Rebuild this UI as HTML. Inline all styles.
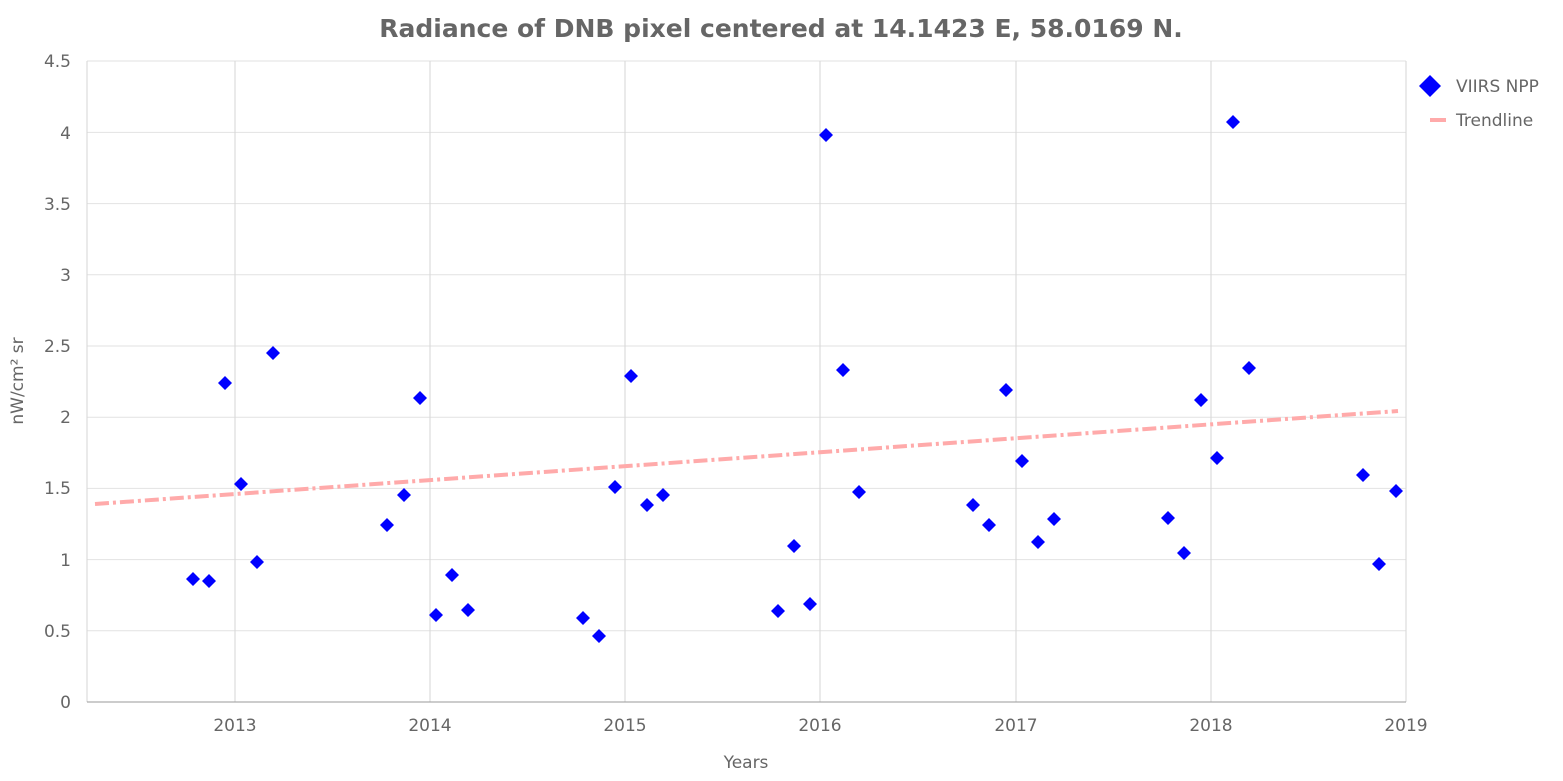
<!DOCTYPE html>
<html><head><meta charset="utf-8"><style>
html,body{margin:0;padding:0;background:#fff;}
svg{display:block;font-family:"DejaVu Sans","Liberation Sans",sans-serif;}
</style></head><body>
<svg width="1563" height="781" viewBox="0 0 1563 781" xmlns="http://www.w3.org/2000/svg">
<rect width="1563" height="781" fill="#fff"/>
<text x="781" y="37" text-anchor="middle" font-size="25" font-weight="bold" fill="#666">Radiance of DNB pixel centered at 14.1423 E, 58.0169 N.</text>
<g stroke="#e2e2e2" stroke-width="1">
<line x1="87" x2="1406" y1="630.8" y2="630.8"/>
<line x1="87" x2="1406" y1="559.6" y2="559.6"/>
<line x1="87" x2="1406" y1="488.4" y2="488.4"/>
<line x1="87" x2="1406" y1="417.2" y2="417.2"/>
<line x1="87" x2="1406" y1="346" y2="346"/>
<line x1="87" x2="1406" y1="274.8" y2="274.8"/>
<line x1="87" x2="1406" y1="203.6" y2="203.6"/>
<line x1="87" x2="1406" y1="132.4" y2="132.4"/>
<line x1="87" x2="1406" y1="61" y2="61"/>
</g>
<g stroke="#d6d6d6" stroke-width="1">
<line x1="87" x2="87" y1="61" y2="702"/>
<line x1="235" x2="235" y1="61" y2="702"/>
<line x1="430" x2="430" y1="61" y2="702"/>
<line x1="625" x2="625" y1="61" y2="702"/>
<line x1="820" x2="820" y1="61" y2="702"/>
<line x1="1016" x2="1016" y1="61" y2="702"/>
<line x1="1211" x2="1211" y1="61" y2="702"/>
<line x1="1406" x2="1406" y1="61" y2="702"/>
</g>
<line x1="87" x2="1406" y1="702" y2="702" stroke="#999" stroke-width="1"/>
<g font-size="17" fill="#666" text-anchor="end">
<text x="71" y="708">0</text><text x="71" y="637">0.5</text><text x="71" y="566">1</text><text x="71" y="494">1.5</text><text x="71" y="423">2</text><text x="71" y="352">2.5</text><text x="71" y="281">3</text><text x="71" y="210">3.5</text><text x="71" y="139">4</text><text x="71" y="67">4.5</text>
</g>
<g font-size="17" fill="#666" text-anchor="middle">
<text x="235" y="731">2013</text><text x="430" y="731">2014</text><text x="625" y="731">2015</text><text x="820" y="731">2016</text><text x="1016" y="731">2017</text><text x="1211" y="731">2018</text><text x="1406" y="731">2019</text>
<text x="746" y="768">Years</text>
</g>
<text transform="translate(23,381) rotate(-90)" font-size="17" fill="#666" text-anchor="middle">nW/cm² sr</text>
<line x1="95" y1="504" x2="1398" y2="411" stroke="#ffaaaa" stroke-width="4" stroke-dasharray="14,4,3,4"/>
<path fill="#0000ff" d="
M193,572l7,7l-7,7l-7,-7z
M209,574l7,7l-7,7l-7,-7z
M225,376l7,7l-7,7l-7,-7z
M241,477l7,7l-7,7l-7,-7z
M257,555l7,7l-7,7l-7,-7z
M273,346l7,7l-7,7l-7,-7z
M387,518l7,7l-7,7l-7,-7z
M404,488l7,7l-7,7l-7,-7z
M420,391l7,7l-7,7l-7,-7z
M436,608l7,7l-7,7l-7,-7z
M452,568l7,7l-7,7l-7,-7z
M468,603l7,7l-7,7l-7,-7z
M583,611l7,7l-7,7l-7,-7z
M599,629l7,7l-7,7l-7,-7z
M615,480l7,7l-7,7l-7,-7z
M631,369l7,7l-7,7l-7,-7z
M647,498l7,7l-7,7l-7,-7z
M663,488l7,7l-7,7l-7,-7z
M778,604l7,7l-7,7l-7,-7z
M794,539l7,7l-7,7l-7,-7z
M810,597l7,7l-7,7l-7,-7z
M826,128l7,7l-7,7l-7,-7z
M843,363l7,7l-7,7l-7,-7z
M859,485l7,7l-7,7l-7,-7z
M973,498l7,7l-7,7l-7,-7z
M989,518l7,7l-7,7l-7,-7z
M1006,383l7,7l-7,7l-7,-7z
M1022,454l7,7l-7,7l-7,-7z
M1038,535l7,7l-7,7l-7,-7z
M1054,512l7,7l-7,7l-7,-7z
M1168,511l7,7l-7,7l-7,-7z
M1184,546l7,7l-7,7l-7,-7z
M1201,393l7,7l-7,7l-7,-7z
M1217,451l7,7l-7,7l-7,-7z
M1233,115l7,7l-7,7l-7,-7z
M1249,361l7,7l-7,7l-7,-7z
M1363,468l7,7l-7,7l-7,-7z
M1379,557l7,7l-7,7l-7,-7z
M1396,484l7,7l-7,7l-7,-7z"/>
<path d="M1430,75l11,11l-11,11l-11,-11z" fill="#0000ff"/>
<text x="1456" y="92" font-size="17" fill="#666">VIIRS NPP</text>
<line x1="1430" y1="120" x2="1446" y2="120" stroke="#ffaaaa" stroke-width="4"/>
<text x="1456" y="126" font-size="17" fill="#666">Trendline</text>
</svg>
</body></html>
